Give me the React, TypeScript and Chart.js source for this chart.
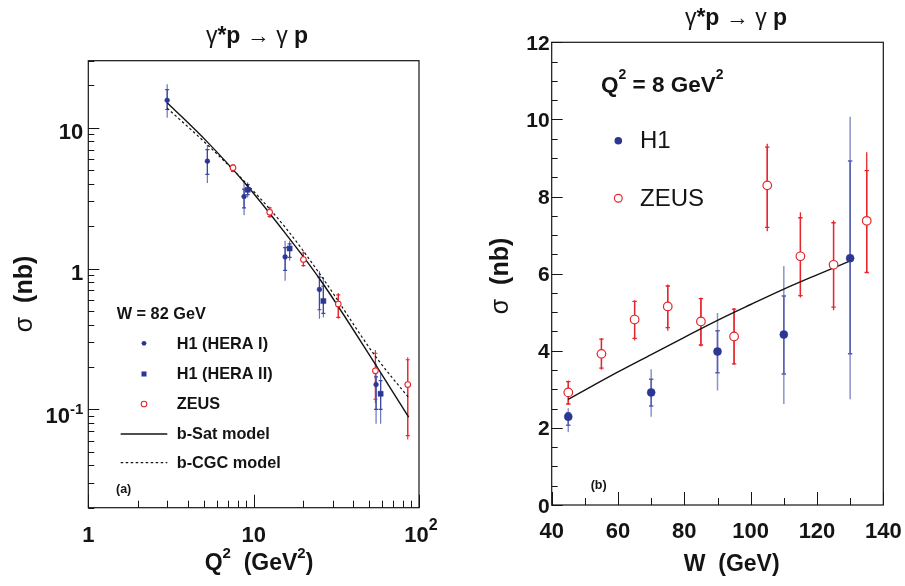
import React, { useEffect, useRef } from "react";
import { Chart, registerables } from "chart.js";
Chart.register(...registerables);

// ---------------- Panel (a): sigma vs Q^2 at W = 82 GeV ----------------
const h1aQ2 = [3, 5.25, 8.75, 15.5, 25, 55];
const h1aSigma = [15.7, 5.8, 3.25, 1.21, 0.71, 0.15];
const h1aTotLo = [11.8, 4.05, 2.39, 0.82, 0.44, 0.079];
const h1aTotHi = [20.4, 7.56, 4.09, 1.58, 0.96, 0.212];
const h1aStatLo = [13.5, 4.67, 2.7, 0.97, 0.51, 0.1];
const h1aStatHi = [18.7, 7.0, 3.67, 1.41, 0.87, 0.17];

const h1bQ2 = [9.2, 16.5, 26.4, 58.6];
const h1bSigma = [3.63, 1.39, 0.588, 0.129];
const h1bTotLo = [3.2, 1.14, 0.45, 0.079];
const h1bTotHi = [4.1, 1.58, 0.87, 0.18];
const h1bStatLo = [3.35, 1.2, 0.48, 0.1];
const h1bStatHi = [3.95, 1.5, 0.75, 0.16];

const zeusAQ2 = [7.5, 12.5, 20, 32.5, 54.5, 85.5];
const zeusASigma = [5.2, 2.51, 1.16, 0.56, 0.188, 0.15];
const zeusATotLo = [4.83, 2.3, 1.03, 0.44, 0.111, 0.061];
const zeusATotHi = [5.53, 2.75, 1.32, 0.67, 0.264, 0.234];
const zeusAStatLo = [4.9, 2.34, 1.05, 0.45, 0.118, 0.065];
const zeusAStatHi = [5.45, 2.7, 1.29, 0.65, 0.25, 0.225];

const modelQ2 = [3, 5.24, 8.9, 15.6, 25.4, 55, 86.6];
const bSatVsQ2 = [15.1, 7.95, 4.02, 1.77, 0.826, 0.205, 0.088];
const bCgcVsQ2 = [13.8, 7.6, 4.1, 1.95, 0.9, 0.235, 0.121];

const aXTickLabels = [1, 10, 100];
const aYTickLabels = [0.1, 1, 10];

// ---------------- Panel (b): sigma vs W at Q^2 = 8 GeV^2 ----------------
const h1W = [45, 70, 90, 110, 130];
const h1Sigma = [2.29, 2.92, 3.98, 4.42, 6.4];
const h1TotLo = [1.89, 2.29, 2.97, 2.62, 2.74];
const h1TotHi = [2.51, 3.52, 4.98, 6.2, 10.07];
const h1StatLo = [2.07, 2.57, 3.43, 3.4, 3.92];
const h1StatHi = [2.39, 3.26, 4.52, 5.42, 8.92];

const zeusW = [45, 55, 65, 75, 85, 95, 105, 115, 125, 135];
const zeusSigma = [2.92, 3.92, 4.81, 5.15, 4.76, 4.37, 8.29, 6.45, 6.23, 7.37];
const zeusTotLo = [2.6, 3.51, 4.27, 4.52, 4.11, 3.64, 7.1, 5.38, 5.05, 6.02];
const zeusTotHi = [3.23, 4.33, 5.31, 5.72, 5.38, 5.11, 9.37, 7.59, 7.38, 9.15];
const zeusStatLo = [2.62, 3.55, 4.32, 4.6, 4.15, 3.66, 7.2, 5.43, 5.13, 6.03];
const zeusStatHi = [3.2, 4.3, 5.28, 5.68, 5.35, 5.08, 9.28, 7.45, 7.32, 8.67];

const modelW = [45, 60, 70, 80, 90, 100, 110, 120, 130];
const bSatVsW = [2.74, 3.45, 3.9, 4.35, 4.79, 5.2, 5.6, 5.97, 6.33];

const bXTickLabels = [40, 60, 80, 100, 120, 140];
const bYTickLabels = [0, 2, 4, 6, 8, 10, 12];

// ---------------- styling ----------------
const FONT = "'Liberation Sans', Arial, Helvetica, sans-serif";
const BLUE = "#2b3793";
const BLUE_BAR = "#3a47a3";
const BLUE_BAR_OUT = "#6b75bb";
const BLUE_LIGHT = "#8c94ca";
const RED = "#e6262d";
const INK = "#141414";

type Seg = { t: string; sup?: boolean; w?: string };

function rich(ctx: CanvasRenderingContext2D, segs: Seg[], x: number, y: number, size: number,
  align: "left" | "center" | "right", weight = "bold", raise = 0.5, supScale = 0.68) {
  const fontFor = (g: Seg) => `${g.w ?? weight} ${g.sup ? Math.round(size * supScale) : size}px ${FONT}`;
  let total = 0;
  for (const g of segs) { ctx.font = fontFor(g); total += ctx.measureText(g.t).width; }
  let cx = align === "left" ? x : align === "right" ? x - total : x - total / 2;
  ctx.textAlign = "left";
  ctx.textBaseline = "alphabetic";
  for (const g of segs) {
    ctx.font = fontFor(g);
    ctx.fillText(g.t, cx, g.sup ? y - size * raise : y);
    cx += ctx.measureText(g.t).width;
  }
}

type Tick = { v: number; major: boolean };

function logTicks(min: number, max: number): Tick[] {
  const out: Tick[] = [];
  for (let e = -3; e <= 3; e++) {
    for (let k = 1; k <= 9; k++) {
      const v = k * Math.pow(10, e);
      if (v >= min * 0.999 && v <= max * 1.001) out.push({ v, major: k === 1 });
    }
  }
  return out;
}

function linTicks(min: number, max: number, minorStep: number, majorStep: number): Tick[] {
  const out: Tick[] = [];
  const n = Math.round((max - min) / minorStep);
  for (let i = 0; i <= n; i++) {
    const v = min + i * minorStep;
    out.push({ v, major: Math.abs(v / majorStep - Math.round(v / majorStep)) < 1e-6 });
  }
  return out;
}

function frameAndTicks(chart: any, xt: Tick[], yt: Tick[], xLen: [number, number], yLen: [number, number]) {
  const { ctx, chartArea: a, scales } = chart;
  ctx.save();
  ctx.strokeStyle = INK;
  ctx.lineWidth = 1.2;
  ctx.strokeRect(a.left, a.top, a.right - a.left, a.bottom - a.top);
  ctx.lineWidth = 1;
  ctx.beginPath();
  for (const t of xt) {
    const px = Math.round(scales.x.getPixelForValue(t.v)) + 0.5;
    ctx.moveTo(px, a.bottom);
    ctx.lineTo(px, a.bottom - (t.major ? xLen[0] : xLen[1]));
  }
  for (const t of yt) {
    const py = Math.round(scales.y.getPixelForValue(t.v)) + 0.5;
    ctx.moveTo(a.left, py);
    ctx.lineTo(a.left + (t.major ? yLen[0] : yLen[1]), py);
  }
  ctx.stroke();
  ctx.restore();
}

function errBars(ctx: CanvasRenderingContext2D, chart: any, xs: number[], lo: number[], hi: number[],
  sLo: number[], sHi: number[], outer: string, inner: string, lw: number, tick: number) {
  const xS = chart.scales.x, yS = chart.scales.y;
  ctx.save();
  for (let i = 0; i < xs.length; i++) {
    const px = xS.getPixelForValue(xs[i]);
    ctx.lineWidth = lw;
    ctx.strokeStyle = outer;
    ctx.beginPath();
    ctx.moveTo(px, yS.getPixelForValue(lo[i]));
    ctx.lineTo(px, yS.getPixelForValue(hi[i]));
    ctx.stroke();
    const sl = yS.getPixelForValue(sLo[i]);
    const sh = yS.getPixelForValue(sHi[i]);
    ctx.strokeStyle = inner;
    ctx.beginPath();
    ctx.moveTo(px, sl); ctx.lineTo(px, sh);
    ctx.moveTo(px - tick, sl); ctx.lineTo(px + tick, sl);
    ctx.moveTo(px - tick, sh); ctx.lineTo(px + tick, sh);
    ctx.stroke();
  }
  ctx.restore();
}

function titleSegs(): Seg[] {
  return [{ t: "γ", w: "normal" }, { t: "*p" }, { t: " → ", w: "normal" }, { t: "γ", w: "normal" }, { t: " p" }];
}

function logLabel(v: number): Seg[] {
  const e = Math.round(Math.log10(v));
  if (e === 0) return [{ t: "1" }];
  if (e === 1) return [{ t: "10" }];
  return [{ t: "10" }, { t: String(e), sup: true }];
}

// ---------------- panel (a) plugin ----------------
const pluginA = {
  id: "panelA",
  beforeDatasetsDraw(chart: any) {
    const ctx = chart.ctx;
    errBars(ctx, chart, zeusAQ2, zeusATotLo, zeusATotHi, zeusAStatLo, zeusAStatHi, RED, RED, 1.1, 2);
    errBars(ctx, chart, h1aQ2, h1aTotLo, h1aTotHi, h1aStatLo, h1aStatHi, BLUE_BAR_OUT, BLUE_BAR, 1.2, 2);
    errBars(ctx, chart, h1bQ2, h1bTotLo, h1bTotHi, h1bStatLo, h1bStatHi, BLUE_BAR_OUT, BLUE_BAR, 1.2, 2);
  },
  afterDraw(chart: any) {
    const { ctx, chartArea: a, scales } = chart;
    frameAndTicks(chart, logTicks(1, 100), logTicks(0.02, 30), [13, 7], [11, 6]);
    ctx.save();
    ctx.fillStyle = INK;
    for (const v of aYTickLabels) {
      const segs = logLabel(v);
      const py = scales.y.getPixelForValue(v);
      rich(ctx, segs, a.left - 5, py + (segs.length > 1 ? 14 : 11.5), 22, "right", "bold", 0.42, 0.7);
    }
    for (const v of aXTickLabels) {
      const segs = logLabel(v);
      rich(ctx, segs, scales.x.getPixelForValue(v) + (segs.length > 1 ? 2 : 0), 541.7, 22, "center", "bold", 0.53, 0.72);
    }
    // axis titles
    rich(ctx, [{ t: "Q" }, { t: "2", sup: true }, { t: "  (GeV" }, { t: "2", sup: true }, { t: ")" }], 259, 570, 23, "center", "bold", 0.52, 0.65);
    ctx.save();
    ctx.translate(31.5, 294);
    ctx.rotate(-Math.PI / 2);
    rich(ctx, [{ t: "σ", w: "normal" }, { t: "  (nb)" }], 0, 0, 25, "center");
    ctx.restore();
    // title
    rich(ctx, titleSegs(), 257, 43, 23, "center");
    // legend
    rich(ctx, [{ t: "W = 82 GeV" }], 116.7, 319, 16.3, "left");
    rich(ctx, [{ t: "H1 (HERA I)" }], 176.7, 349, 16.3, "left");
    rich(ctx, [{ t: "H1 (HERA II)" }], 176.7, 379, 16.3, "left");
    rich(ctx, [{ t: "ZEUS" }], 176.7, 409, 16.3, "left");
    rich(ctx, [{ t: "b-Sat model" }], 176.7, 439.3, 16.3, "left");
    rich(ctx, [{ t: "b-CGC model" }], 176.7, 468, 16.3, "left");
    rich(ctx, [{ t: "(a)" }], 116, 492.5, 12.5, "left");
    ctx.fillStyle = BLUE;
    ctx.beginPath(); ctx.arc(144, 343.3, 2.4, 0, Math.PI * 2); ctx.fill();
    ctx.fillRect(141.5, 371.5, 5, 5);
    ctx.strokeStyle = RED; ctx.lineWidth = 1.1;
    ctx.fillStyle = "#fff";
    ctx.beginPath(); ctx.arc(144, 404, 2.8, 0, Math.PI * 2); ctx.fill(); ctx.stroke();
    ctx.strokeStyle = INK;
    ctx.lineWidth = 1.4;
    ctx.beginPath(); ctx.moveTo(120.7, 434); ctx.lineTo(167.3, 434); ctx.stroke();
    ctx.lineWidth = 1.2;
    ctx.setLineDash([2.5, 2.5]);
    ctx.beginPath(); ctx.moveTo(120.7, 462.7); ctx.lineTo(167.3, 462.7); ctx.stroke();
    ctx.restore();
  },
};

// ---------------- panel (b) plugin ----------------
const B_LEFT = 460;
const bx = (x: number) => x - B_LEFT;
const pluginB = {
  id: "panelB",
  beforeDatasetsDraw(chart: any) {
    const ctx = chart.ctx;
    errBars(ctx, chart, zeusW, zeusTotLo, zeusTotHi, zeusStatLo, zeusStatHi, RED, RED, 1.3, 2.2);
    errBars(ctx, chart, h1W, h1TotLo, h1TotHi, h1StatLo, h1StatHi, BLUE_LIGHT, "#5560ae", 1.5, 2.2);
  },
  afterDraw(chart: any) {
    const { ctx, chartArea: a, scales } = chart;
    frameAndTicks(chart, linTicks(40, 140, 10, 20), linTicks(0, 12, 0.5, 2), [13, 7], [11, 6]);
    ctx.save();
    ctx.fillStyle = INK;
    for (const v of bYTickLabels) {
      rich(ctx, [{ t: String(v) }], a.left - 2, scales.y.getPixelForValue(v) + 7.5, 21, "right");
    }
    for (const v of bXTickLabels) {
      rich(ctx, [{ t: String(v) }], scales.x.getPixelForValue(v), 538.3, 22, "center");
    }
    rich(ctx, [{ t: "W  (GeV)" }], bx(731.7), 571, 23, "center");
    ctx.save();
    ctx.translate(bx(508), 276);
    ctx.rotate(-Math.PI / 2);
    rich(ctx, [{ t: "σ", w: "normal" }, { t: "  (nb)" }], 0, 0, 25, "center");
    ctx.restore();
    rich(ctx, titleSegs(), bx(736), 25, 23, "center");
    // legend
    rich(ctx, [{ t: "Q" }, { t: "2", sup: true }, { t: " = 8 GeV" }, { t: "2", sup: true }], bx(601), 91.7, 22.5, "left", "bold", 0.55, 0.64);
    rich(ctx, [{ t: "H1" }], bx(640), 148.3, 24, "left", "normal");
    rich(ctx, [{ t: "ZEUS" }], bx(640), 205.7, 24, "left", "normal");
    rich(ctx, [{ t: "(b)" }], bx(590.7), 489, 12.5, "left");
    ctx.fillStyle = BLUE;
    ctx.beginPath(); ctx.arc(bx(618.3), 140.7, 3.8, 0, Math.PI * 2); ctx.fill();
    ctx.fillStyle = "#fff"; ctx.strokeStyle = RED; ctx.lineWidth = 1.2;
    ctx.beginPath(); ctx.arc(bx(618.3), 198.3, 3.9, 0, Math.PI * 2); ctx.fill(); ctx.stroke();
    ctx.restore();
  },
};

function pts(xs: number[], ys: number[]) {
  return xs.map((x, i) => ({ x, y: ys[i] }));
}

function makeConfigA(): any {
  return {
    type: "scatter",
    data: {
      datasets: [
        { label: "H1 (HERA I)", data: pts(h1aQ2, h1aSigma), pointStyle: "circle", pointRadius: 2.4, backgroundColor: BLUE, borderColor: BLUE, borderWidth: 0.5 },
        { label: "H1 (HERA II)", data: pts(h1bQ2, h1bSigma), pointStyle: "rect", pointRadius: 3.6, backgroundColor: BLUE, borderColor: BLUE, borderWidth: 0.5 },
        { label: "ZEUS", data: pts(zeusAQ2, zeusASigma), pointStyle: "circle", pointRadius: 2.8, backgroundColor: "#fff", borderColor: RED, borderWidth: 1.1 },
        { label: "b-Sat model", data: pts(modelQ2, bSatVsQ2), showLine: true, pointRadius: 0, borderColor: INK, borderWidth: 1.4, cubicInterpolationMode: "monotone", fill: false },
        { label: "b-CGC model", data: pts(modelQ2, bCgcVsQ2), showLine: true, pointRadius: 0, borderColor: INK, borderWidth: 1.2, borderDash: [2.5, 2.5], cubicInterpolationMode: "monotone", fill: false },
      ],
    },
    options: {
      responsive: false,
      animation: false,
      events: [],
      layout: { padding: { left: 88.3, top: 60.7, right: 460 - 419, bottom: 586 - 507.7 } },
      plugins: { legend: { display: false }, tooltip: { enabled: false } },
      scales: {
        x: { type: "logarithmic", min: 1, max: 100, display: false },
        y: { type: "logarithmic", min: 0.02, max: 30, display: false },
      },
    },
    plugins: [pluginA],
  };
}

function makeConfigB(): any {
  return {
    type: "scatter",
    data: {
      datasets: [
        { label: "H1", data: pts(h1W, h1Sigma), pointStyle: "circle", pointRadius: 4, backgroundColor: BLUE, borderColor: BLUE, borderWidth: 0.5 },
        { label: "ZEUS", data: pts(zeusW, zeusSigma), pointStyle: "circle", pointRadius: 4.3, backgroundColor: "#fff", borderColor: RED, borderWidth: 1.2 },
        { label: "b-Sat model", data: pts(modelW, bSatVsW), showLine: true, pointRadius: 0, borderColor: INK, borderWidth: 1.4, cubicInterpolationMode: "monotone", fill: false },
      ],
    },
    options: {
      responsive: false,
      animation: false,
      events: [],
      layout: { padding: { left: 551.7 - B_LEFT, top: 42.3, right: 905 - 883.3, bottom: 586 - 505 } },
      plugins: { legend: { display: false }, tooltip: { enabled: false } },
      scales: {
        x: { type: "linear", min: 40, max: 140, display: false },
        y: { type: "linear", min: 0, max: 12, display: false },
      },
    },
    plugins: [pluginB],
  };
}

function ChartCanvas({ make, left, width }: { make: () => any; left: number; width: number }) {
  const ref = useRef<HTMLCanvasElement>(null);
  useEffect(() => {
    const chart = new Chart(ref.current as HTMLCanvasElement, make());
    return () => chart.destroy();
  }, []);
  return (
    <canvas ref={ref} width={width} height={586}
      style={{ position: "absolute", left, top: 0, width, height: 586 }} />
  );
}

export default function App() {
  return (
    <div style={{ position: "absolute", left: 0, top: 0, width: 905, height: 586, background: "#fff" }}>
      <ChartCanvas make={makeConfigA} left={0} width={B_LEFT} />
      <ChartCanvas make={makeConfigB} left={B_LEFT} width={905 - B_LEFT} />
    </div>
  );
}
